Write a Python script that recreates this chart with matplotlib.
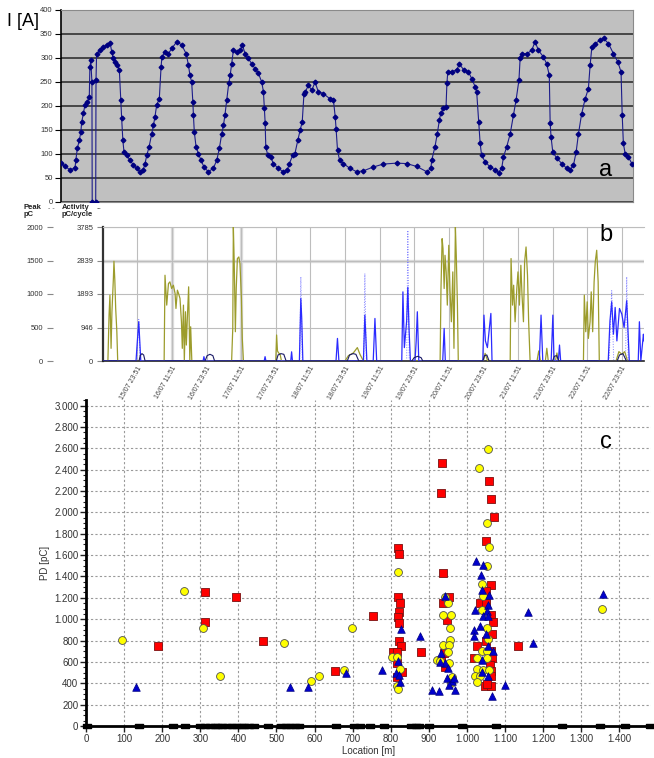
import numpy as np
import matplotlib
matplotlib.use("Agg")
import matplotlib.pyplot as plt
from matplotlib.ticker import FuncFormatter, AutoMinorLocator

plt.rcParams['font.family'] = ['Liberation Sans', 'DejaVu Sans']

# ---------------- data ----------------
# (a) load current, hours from start of record
a_hours = [0.0, 1.4, 3.1, 4.8, 5.1, 5.6, 6.3, 6.8, 7.1, 7.7, 8.2, 9.0, 9.7, 9.9, 10.2, 10.6, 10.7, 11.9,
           12.0, 12.2, 13.4, 14.5, 15.7, 16.8, 17.4, 17.9, 18.5, 19.3, 20.0, 20.5, 20.8, 21.2, 21.6, 22.5,
           23.7, 24.8, 26.0, 27.1, 28.2, 28.8, 29.4, 30.2, 31.1, 31.7, 32.2, 32.8, 33.7, 34.3, 34.6, 35.7,
           36.8, 38.0, 39.7, 41.4, 42.9, 43.7, 44.2, 44.8, 45.2, 45.4, 45.7, 46.3, 47.1, 48.0, 49.0, 50.5,
           52.2, 53.4, 54.3, 55.1, 55.7, 56.2, 56.8, 57.5, 58.0, 58.5, 59.1, 60.2, 61.4, 62.2, 63.1, 64.2,
           65.4, 66.5, 67.7, 68.8, 69.4, 69.7, 70.0, 70.2, 70.9, 71.9, 72.8, 74.5, 76.2, 77.6, 78.3, 79.4,
           80.2, 81.2, 82.0, 82.7, 83.3, 83.8, 84.8, 86.0, 87.1, 88.2, 89.9, 92.2, 93.4, 94.0, 94.3, 94.8,
           95.5, 96.8, 99.1, 101.4, 103.7, 107.1, 110.5, 115.1, 118.5, 122.0, 125.4, 126.8, 127.1, 128.2,
           129.0, 129.7, 130.2, 131.1, 132.0, 132.3, 132.6, 134.0, 135.7, 136.6, 138.0, 139.7, 140.8, 142.0,
           142.5, 143.2, 143.7, 144.2, 145.4, 147.1, 148.8, 150.0, 151.1, 151.7, 152.8, 154.0, 155.1, 156.0,
           157.0, 157.4, 158.0, 159.7, 161.4, 162.5, 163.7, 165.4, 166.5, 167.4, 167.7, 168.0, 168.6, 170.0,
           171.7, 173.4, 174.5, 175.7, 176.6, 177.4, 178.5, 179.7, 180.8, 181.4, 182.0, 183.1, 184.8, 186.0,
           187.7, 189.4, 190.9, 192.0, 192.4, 192.8, 193.4, 194.5, 195.7]
a_current = [81, 74, 67, 71, 88, 112, 129, 146, 167, 185, 202, 208, 219, 281, 295, 250, 0, 0,
             254, 309, 316, 323, 327, 332, 313, 299, 292, 285, 275, 212, 174, 129, 104, 97,
             87, 77, 70, 63, 67, 80, 97, 115, 142, 160, 177, 202, 215, 281, 302, 313,
             309, 320, 334, 327, 309, 285, 264, 250, 208, 181, 146, 115, 101, 87, 73, 63,
             70, 87, 112, 142, 160, 181, 212, 247, 264, 288, 316, 313, 316, 327, 309, 299,
             288, 278, 268, 250, 230, 195, 164, 115, 97, 94, 80, 70, 63, 67, 80, 97,
             101, 129, 150, 167, 226, 230, 243, 233, 250, 230, 226, 215, 212, 178, 153, 108,
             87, 80, 70, 63, 65, 73, 79, 81, 80, 74, 63, 70, 87, 115,
             142, 170, 185, 195, 198, 247, 271, 271, 276, 287, 276, 271, 257, 240,
             230, 167, 122, 97, 84, 73, 67, 61, 71, 94, 115, 142, 181, 212,
             254, 299, 309, 309, 316, 334, 316, 302, 288, 264, 164, 136, 104, 91,
             80, 70, 67, 77, 104, 142, 184, 215, 236, 285, 323, 330, 337, 341,
             330, 309, 292, 271, 181, 122, 101, 94, 80]

# (b) PD monitoring, hours relative to 15/07 23:51 (peak pC scale)
b_tick_hours = [0, 12, 24, 36, 48, 60, 72, 84, 96, 108, 120, 132, 144, 156, 168]
b_tick_labels = ["15/07 23:51", "16/07 11:51", "16/07 23:51", "17/07 11:51", "17/07 23:51",
                 "18/07 11:51", "18/07 23:51", "19/07 11:51", "19/07 23:51", "20/07 11:51",
                 "20/07 23:51", "21/07 11:51", "21/07 23:51", "22/07 11:51", "22/07 23:51"]
peak_ticks = [0, 500, 1000, 1500, 2000]
activity_labels = ["0", "946", "1893", "2839", "3785"]

olive_t = [-11.9, -10.2, -9.8, -9.5, -9.1, -8.8, -8.3, -8.1, -7.8, -7.5, -7.1, -6.8,
           9.3, 9.6, 10.2, 10.8, 11.3, 11.9, 12.5, 13.1, 13.4, 13.9, 14.3, 14.8, 15.3, 15.6, 16.0,
           16.3, 16.7, 17.0, 17.3, 17.8, 18.2, 18.5, 18.9,
           32.7, 33.1, 33.3, 33.6, 34.0, 34.3, 34.7, 35.2, 35.6, 36.1, 36.4, 36.8,
           48.0, 48.3, 48.6, 49.0, 49.5, 50.0,
           72.0, 73.2, 74.9, 76.3, 77.2, 78.4,
           105.0, 105.3, 105.7, 106.0, 106.4, 106.7, 107.1, 107.5, 108.0, 108.4, 108.9, 109.4,
           109.8, 110.3, 110.6, 111.0, 111.3,
           120.0, 120.6, 121.5,
           129.3, 129.6, 130.1, 130.5, 131.0, 131.6, 132.0, 132.5, 133.0, 133.4, 133.9, 134.3,
           134.8, 135.3, 135.7, 136.2,
           138.6, 139.2, 139.8, 141.5, 142.0, 142.5, 145.0, 145.5, 146.0,
           154.7, 155.0, 155.5, 156.0, 156.4, 157.0, 157.4, 157.9, 158.4, 158.8, 159.3, 159.8, 160.2,
           166.0, 167.0, 168.0, 169.0, 170.0, 175.7]
olive_v = [0, 0, 685, 983, 189, 735, 1231, 1489, 1206, 784, 437, 0,
           0, 1280, 834, 1156, 1181, 1082, 1131, 1007, 784, 1057, 1007, 933, 586, 189, 834,
           0, 735, 238, 586, 1107, 0, 511, 0,
           0, 486, 2000, 1479, 437, 1082, 1529, 1553, 1454, 933, 337, 0,
           0, 388, 150, 120, 100, 0,
           0, 80, 120, 200, 100, 0,
           0, 1082, 1826, 1677, 1082, 1578, 1330, 834, 1727, 1082, 586, 1330,
           189, 2000, 1578, 834, 0,
           0, 114, 0,
           0, 1529, 834, 1131, 586, 1082, 1330, 834, 1429, 983, 586, 1479,
           1702, 1280, 586, 0,
           0, 150, 0, 0, 190, 0, 0, 120, 0,
           0, 983, 437, 883, 337, 586, 1032, 437, 1181, 1479, 1653, 1181, 0,
           0, 140, 100, 140, 0, 0]

blue_t = [-11.9, -0.45, 0.0, 0.5, 0.8, 1.2, 22.8, 23.1, 23.4, 44.0, 44.3, 44.6, 53.2, 53.5, 53.8,
          56.2, 56.7, 57.0, 57.4, 68.9, 69.4, 69.9, 78.4, 78.9, 79.2, 79.6, 81.8, 82.4, 83.0,
          91.7, 92.1, 92.6, 93.4, 93.8, 94.2, 94.7, 96.3, 96.7, 97.1, 97.6, 105.9, 106.4, 106.8,
          119.8, 120.2, 120.7, 121.4, 122.6, 123.0, 139.4, 140.0, 140.6, 143.5, 144.1, 144.5,
          146.0, 146.4, 146.8, 163.3, 163.9, 164.5, 165.1, 165.7, 166.3, 167.2, 168.0, 168.8,
          169.7, 170.6, 173.7, 174.1, 174.6, 175.5, 175.7]
blue_v = [0, 0, 288, 586, 337, 0, 0, 65, 0, 0, 65, 0, 0, 137, 0,
          0, 933, 650, 0, 0, 337, 0, 0, 685, 400, 0, 0, 635, 0,
          0, 1032, 200, 600, 1100, 500, 0, 0, 300, 735, 0, 0, 486, 0,
          0, 685, 300, 200, 710, 0, 0, 685, 0, 0, 685, 0,
          0, 238, 0, 0, 600, 883, 400, 800, 300, 784, 700, 500,
          900, 0, 0, 586, 0, 400, 300]

blue_peak_t = [-11.9, -0.2, 0.5, 1.0, 56.3, 56.7, 57.2, 78.5, 78.9, 79.4, 93.4, 93.8, 94.3,
               163.6, 164.5, 165.2, 169.3, 169.7, 170.2, 175.7]
blue_peak_v = [0, 0, 620, 0, 0, 1256, 0, 0, 1305, 0, 0, 1950, 0,
               0, 1050, 0, 0, 1256, 0, 0]

navy_t = [-11.9, 0.6, 1.0, 1.6, 2.2, 2.7, 23.5, 24.2, 25.2, 26.2, 26.8, 48.2, 48.8, 49.8, 50.8, 51.6,
          72.8, 73.6, 74.8, 75.8, 76.8, 95.2, 96.0, 97.2, 98.4, 99.0, 119.8, 120.4, 121.2, 122.0,
          144.0, 144.6, 145.4, 146.2, 166.4, 167.2, 168.4, 169.6, 175.7]
navy_v = [0, 0, 80, 110, 90, 0, 0, 80, 100, 80, 0, 0, 90, 110, 100, 0,
          0, 90, 110, 100, 0, 0, 50, 70, 50, 0, 0, 80, 90, 0,
          0, 70, 80, 0, 0, 90, 110, 0, 0]

# (c) PD events along the cable
red_m = [189, 312, 312, 394, 465, 654, 752, 879, 1133,
         820, 822, 820, 824, 822, 820, 822, 822, 827, 805, 817, 817, 829, 815,
         934, 932, 937, 938, 953, 948, 940, 932, 942,
         1059, 1063, 1072, 1049, 1062, 1050, 1034, 1049, 1063, 1069, 1065, 1050, 1027,
         1063, 1065, 1018, 1060, 1063, 1062, 1047, 1062, 1053]
red_pc = [752, 1258, 974, 1205, 799, 518, 1030, 696, 752,
          1663, 1610, 1205, 1148, 1068, 1020, 968, 800, 750, 696, 696, 587, 509, 458,
          2466, 2185, 1436, 1148, 1205, 992, 686, 610, 550,
          2298, 2127, 1955, 1728, 1317, 1261, 1151, 1151, 1042, 974, 862, 793, 753,
          700, 638, 638, 575, 513, 466, 373, 373, 395]

yellow_m = [94, 258, 308, 352, 521, 590, 611, 676, 697,
            820, 802, 817, 824, 815, 820,
            942, 951, 938, 957, 955, 955, 938, 953, 950, 954, 920, 929, 960, 958,
            1054, 1032, 1053, 1058, 1053, 1040, 1041, 1039, 1052, 1056, 1039, 1052,
            1025, 1053, 1025, 1043, 1058, 1021, 1034, 1027, 1355]
yellow_pc = [805, 1267, 921, 468, 780, 418, 468, 524, 921,
             1445, 643, 643, 534, 375, 343,
             1211, 1148, 1039, 1039, 921, 805, 758, 758, 696, 587, 618, 612, 462, 405,
             2591, 2413, 1905, 1675, 1500, 1332, 1220, 1089, 918, 815, 700, 700,
             638, 638, 535, 528, 528, 466, 466, 413, 1096]

blue_m = [130, 535, 584, 682, 776, 877, 1161, 1174, 1100, 1066, 1358,
          826, 820, 814, 822, 824,
          942, 931, 942, 951, 948, 960, 966, 953, 969, 909, 927, 930,
          1023, 1043, 1037, 1039, 1058, 1056, 1021, 1052, 1041, 1056, 1034, 1019,
          1019, 1050, 1056, 1069, 1039, 1039, 1056]
blue_pc = [362, 362, 362, 499, 520, 840, 1064, 778, 388, 279, 1236,
           908, 610, 499, 480, 415,
           1220, 686, 587, 540, 447, 424, 447, 385, 340, 340, 330, 600,
           1541, 1510, 1416, 1276, 1229, 1136, 1089, 1074, 1027, 1027, 933, 902,
           840, 865, 753, 700, 616, 504, 466]

joint_m = [3, 140, 228, 261, 300, 312, 326, 338, 346, 358, 370, 382, 394, 406, 415, 428, 442,
           479, 512, 524, 536, 548, 560, 655, 704, 720, 746, 783, 853, 867, 875, 901, 987,
           1076, 1249, 1348, 1416, 1480]

# ---------------- figure ----------------
W, H = 654, 758
fig = plt.figure(figsize=(W / 100, H / 100), dpi=100)


def box(l, t, r, b):
    return [l / W, 1 - b / H, (r - l) / W, (b - t) / H]


# ---- panel a ----
ax_a = fig.add_axes(box(61, 10, 633, 202))
ax_a.set_facecolor('#c0c0c0')
ax_a.plot(a_hours, a_current, color='#1c1c8a', lw=0.8, marker='D', ms=2.4,
          mfc='#000080', mec='#000080', zorder=3)
ax_a.set_xlim(0, 196.1)
ax_a.set_ylim(0, 400)
ax_a.set_xticks([])
ax_a.set_yticks(range(0, 401, 50))
ax_a.yaxis.grid(True, color='#262626', lw=1.1)
ax_a.set_axisbelow(True)
ax_a.tick_params(axis='y', labelsize=5.5, labelcolor='#333333', length=4, width=0.8, pad=2)
for s in ['top', 'right', 'bottom']:
    ax_a.spines[s].set_color('#8a8a8a')
ax_a.spines['left'].set_color('black')
ax_a.spines['left'].set_linewidth(1.2)
fig.text(7 / W, 1 - 21 / H, 'I [A]', fontsize=13, va='center', ha='left')
fig.text(606 / W, 1 - 170 / H, 'a', fontsize=17, va='center', ha='center')

# ---- panel b ----
ax_b = fig.add_axes(box(103, 227, 644, 361))
ax_b.axhline(1500, color='#dcdcdc', lw=2.4, zorder=0)
for h in [12, 36]:
    ax_b.axvline(h, color='#dcdcdc', lw=2.4, zorder=0)
ax_b.plot(blue_peak_t, blue_peak_v, color='#8080ff', lw=0.7, ls=':', zorder=2)
ax_b.plot(olive_t, olive_v, color='#9c9c2c', lw=0.9, zorder=3)
ax_b.plot(blue_t, blue_v, color='#2b2bff', lw=0.9, zorder=4)
ax_b.plot(navy_t, navy_v, color='#1a1a66', lw=0.8, zorder=5)
ax_b.set_xlim(-11.9, 175.7)
ax_b.set_ylim(0, 2000)
ax_b.set_xticks(b_tick_hours)
ax_b.set_xticklabels(b_tick_labels, rotation=60, ha='right', rotation_mode='anchor')
ax_b.set_yticks(peak_ticks)
ax_b.set_yticklabels(activity_labels)
ax_b.grid(True, color='#bdbdbd', lw=0.8)
ax_b.set_axisbelow(True)
ax_b.tick_params(axis='x', length=0, labelsize=5, labelcolor='#444444', pad=3)
ax_b.tick_params(axis='y', length=4, color='#888888', labelsize=5.5, labelcolor='#333333', pad=3)
ax_b.spines['top'].set_color('#bdbdbd')
ax_b.spines['right'].set_visible(False)
ax_b.spines['left'].set_color('#333333')
ax_b.spines['left'].set_linewidth(1.6)
ax_b.spines['bottom'].set_color('#222222')
ax_b.spines['bottom'].set_linewidth(1.2)

sec = ax_b.secondary_yaxis((53 - 103) / 541, functions=(lambda v: v, lambda v: v))
sec.set_yticks(peak_ticks)
sec.spines['left'].set_visible(False)
sec.tick_params(length=4, color='#888888', labelsize=5.5, labelcolor='#333333', pad=3)

fig.text(24 / W, 1 - 204 / H, 'Peak\npC', fontsize=5.5, fontweight='bold', va='top',
         ha='left', color='#222222', linespacing=1.0)
fig.text(62 / W, 1 - 204 / H, 'Activity\npC/cycle', fontsize=5.5, fontweight='bold', va='top',
         ha='left', color='#222222', linespacing=1.0)
fig.text(48 / W, 1 - 209 / H, '- -', fontsize=5, color='#666666', va='center')
fig.text(97 / W, 1 - 209 / H, '--', fontsize=5, color='#444444', va='center')
fig.text(606 / W, 1 - 235 / H, 'b', fontsize=17, va='center', ha='center')

# ---- panel c ----
ax_c = fig.add_axes(box(86, 400, 651, 726))
ax_c.scatter(red_m, red_pc, marker='s', s=30, c='#ff0000', edgecolors='#7a1010',
             linewidths=0.6, zorder=3)
ax_c.scatter(yellow_m, yellow_pc, marker='o', s=32, c='#ffff00', edgecolors='#505050',
             linewidths=0.6, zorder=4)
ax_c.scatter(blue_m, blue_pc, marker='^', s=30, c='#0000cc', edgecolors='#000080',
             linewidths=0.5, zorder=5)
rect = [(-1, -0.5), (1, -0.5), (1, 0.5), (-1, 0.5), (-1, -0.5)]
ax_c.plot(joint_m, np.zeros(len(joint_m)), ls='none', marker=rect, ms=6, color='black',
          clip_on=False, zorder=6)
ax_c.set_xlim(0, 1483)
ax_c.set_ylim(0, 3052)
ax_c.set_xticks(range(0, 1401, 100))
ax_c.set_yticks(range(0, 3001, 200))
ax_c.yaxis.set_minor_locator(AutoMinorLocator(4))
fmt = FuncFormatter(lambda v, p: f"{int(round(v)):,}".replace(',', '.'))
ax_c.xaxis.set_major_formatter(fmt)
ax_c.yaxis.set_major_formatter(fmt)
ax_c.grid(True, ls=(0, (2, 2)), color='#9a9a9a', lw=0.8)
ax_c.set_axisbelow(True)
ax_c.tick_params(axis='both', labelsize=7, labelcolor='#333333', length=4, width=1,
                 color='#222222', pad=1.5)
ax_c.tick_params(axis='y', which='minor', length=2, width=0.8, color='#222222')
for s in ['top', 'right']:
    ax_c.spines[s].set_visible(False)
for s in ['left', 'bottom']:
    ax_c.spines[s].set_linewidth(2)
    ax_c.spines[s].set_color('black')
ax_c.set_xlabel('Location [m]', fontsize=7, color='#333333', labelpad=2)
ax_c.set_ylabel('PD [pC]', fontsize=7, color='#333333', labelpad=3)
fig.text(606 / W, 1 - 442 / H, 'c', fontsize=17, va='center', ha='center')

fig.savefig('out.png', dpi=100)
